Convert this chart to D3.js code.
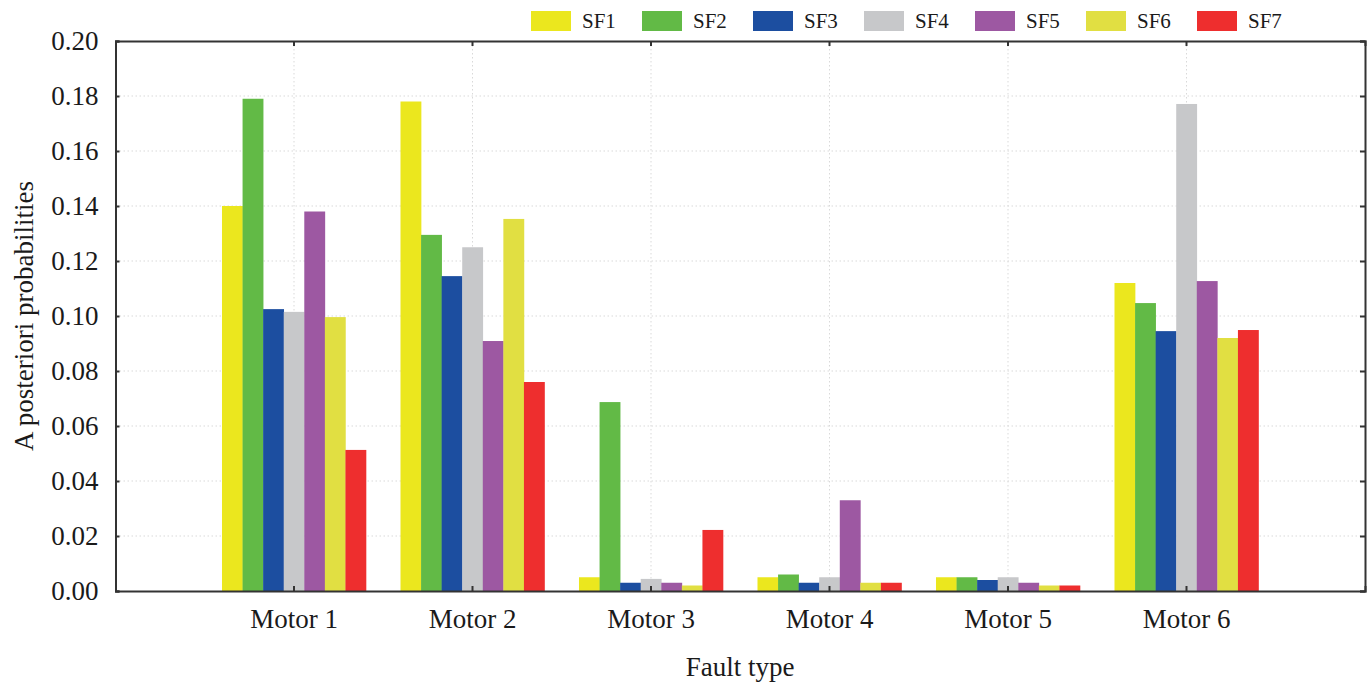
<!DOCTYPE html>
<html>
<head>
<meta charset="utf-8">
<script src="https://cdn.jsdelivr.net/npm/d3@7"></script>
<style>
  html, body { margin: 0; padding: 0; background: #fff; }
  svg { display: block; }
  text { font-family: "Liberation Serif", "Times New Roman", serif; fill: #1a1a1a; }
</style>
</head>
<body>
<svg id="chart" width="1370" height="684"></svg>
<script>
const categories = ["Motor 1", "Motor 2", "Motor 3", "Motor 4", "Motor 5", "Motor 6"];
const seriesNames = ["SF1", "SF2", "SF3", "SF4", "SF5", "SF6", "SF7"];
const seriesColors = ["#ebe71e", "#62ba46", "#1c4ea0", "#c7c8ca", "#9d58a2", "#e1df42", "#ee2e2e"];
const SF1 = [0.140, 0.178, 0.005, 0.005, 0.005, 0.112];
const SF2 = [0.179, 0.1295, 0.0687, 0.006, 0.005, 0.1047];
const SF3 = [0.1025, 0.1145, 0.003, 0.003, 0.004, 0.0945];
const SF4 = [0.1015, 0.125, 0.0044, 0.005, 0.005, 0.1771];
const SF5 = [0.138, 0.0909, 0.003, 0.033, 0.003, 0.1127];
const SF6 = [0.0996, 0.1353, 0.002, 0.003, 0.002, 0.092];
const SF7 = [0.0513, 0.076, 0.0222, 0.003, 0.002, 0.0949];
const seriesValues = [SF1, SF2, SF3, SF4, SF5, SF6, SF7];
const yTicks = [0, 0.02, 0.04, 0.06, 0.08, 0.10, 0.12, 0.14, 0.16, 0.18, 0.20];
const yTitle = "A posteriori probabilities";
const xTitle = "Fault type";

(function () {
const svg = d3.select("#chart");
const L = 115.5, R = 1365, T = 41, B = 591;

const x0 = d3.scaleBand().domain(categories).range([L, R]).paddingInner(0).paddingOuter(0.5);
const inset = x0.bandwidth() * 0.0966;
const x1 = d3.scaleBand().domain(seriesNames).range([inset, x0.bandwidth() - inset]).padding(0);
const y = d3.scaleLinear().domain([0, 0.2]).range([B, T]);
const color = d3.scaleOrdinal().domain(seriesNames).range(seriesColors);

// gridlines
const grid = svg.append("g");
grid.selectAll("line.h").data(yTicks.filter(t => t > 0 && t < 0.2)).join("line")
  .attr("x1", L).attr("x2", R).attr("y1", d => y(d)).attr("y2", d => y(d))
  .attr("stroke", "#d9d9d9").attr("stroke-width", 1).attr("stroke-dasharray", "1.5,2.5");
grid.selectAll("line.v").data(categories).join("line")
  .attr("x1", d => x0(d) + x0.bandwidth() / 2).attr("x2", d => x0(d) + x0.bandwidth() / 2)
  .attr("y1", T).attr("y2", B)
  .attr("stroke", "#d9d9d9").attr("stroke-width", 1).attr("stroke-dasharray", "1.5,2.5");

// bars
const data = [];
categories.forEach((c, i) => seriesNames.forEach((s, j) => data.push({c, s, v: seriesValues[j][i]})));
svg.append("g").selectAll("rect").data(data).join("rect")
  .attr("x", d => x0(d.c) + x1(d.s))
  .attr("width", x1.bandwidth() + 0.3)
  .attr("y", d => y(d.v))
  .attr("height", d => B - y(d.v))
  .attr("fill", d => color(d.s));

// axes
const axisColor = "#333";
const fmt = d3.format(".2f");
const axLeft = svg.append("g").attr("transform", `translate(${L},0)`)
  .call(d3.axisLeft(y).tickValues(yTicks).tickFormat(fmt).tickSize(-4).tickPadding(17));
const axBottom = svg.append("g").attr("transform", `translate(0,${B})`)
  .call(d3.axisBottom(x0).tickSize(-5).tickPadding(18));
const axTop = svg.append("g").attr("transform", `translate(0,${T})`)
  .call(d3.axisTop(x0).tickSize(-5).tickFormat(""));
const axRight = svg.append("g").attr("transform", `translate(${R},0)`)
  .call(d3.axisRight(y).tickValues(yTicks).tickSize(-5).tickFormat(""));
[axLeft, axBottom, axTop, axRight].forEach(g => {
  g.select(".domain").attr("stroke", axisColor).attr("stroke-width", 2);
  g.selectAll(".tick line").attr("stroke", axisColor).attr("stroke-width", 2);
  g.selectAll("text").attr("font-family", "Liberation Serif, Times New Roman, serif")
    .attr("font-size", 27).attr("fill", "#1a1a1a");
});
axBottom.selectAll(".tick text").attr("dy", "0.71em");

// axis titles
svg.append("text").attr("transform", `translate(33,316) rotate(-90)`)
  .attr("text-anchor", "middle").attr("font-size", 27).text(yTitle);
svg.append("text").attr("x", 740).attr("y", 676)
  .attr("text-anchor", "middle").attr("font-size", 27).text(xTitle);

// legend
const lg = svg.append("g");
seriesNames.forEach((s, i) => {
  const gx = 531 + i * 111;
  lg.append("rect").attr("x", gx).attr("y", 11).attr("width", 40).attr("height", 20).attr("fill", color(s));
  lg.append("text").attr("x", gx + 51).attr("y", 28).attr("font-size", 21).text(s);
});
})();
</script>
</body>
</html>
